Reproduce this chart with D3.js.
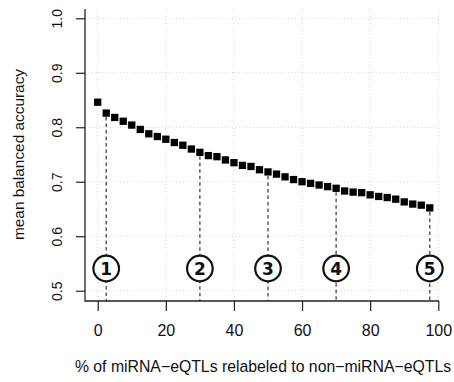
<!DOCTYPE html>
<html>
<head>
<meta charset="utf-8">
<script src="https://cdn.jsdelivr.net/npm/d3@7"></script>
<style>
  html, body { margin: 0; padding: 0; background: #fff; }
  svg { display: block; }
  text { font-family: "Liberation Sans", Arial, Helvetica, sans-serif; fill: #111; }
</style>
</head>
<body>
<svg id="chart" width="454" height="382"></svg>
<script>
// Percentage of miRNA-eQTLs relabeled, and the resulting mean balanced accuracy
const relabeled = [0, 2.5, 5, 7.5, 10, 12.5, 15, 17.5, 20, 22.5, 25, 27.5, 30, 32.5, 35, 37.5,
  40, 42.5, 45, 47.5, 50, 52.5, 55, 57.5, 60, 62.5, 65, 67.5, 70, 72.5, 75, 77.5, 80, 82.5,
  85, 87.5, 90, 92.5, 95, 97.5];
const accuracy = [0.846, 0.826, 0.818, 0.811, 0.804, 0.796, 0.788, 0.783, 0.778, 0.772,
  0.767, 0.760, 0.754, 0.748, 0.746, 0.740, 0.735, 0.730, 0.728, 0.722, 0.718, 0.714,
  0.709, 0.704, 0.700, 0.697, 0.694, 0.691, 0.688, 0.683, 0.681, 0.680, 0.676, 0.673,
  0.671, 0.668, 0.663, 0.659, 0.657, 0.652];

// Highlighted relabeling levels and their circled labels
const markedLevels = [2.5, 30, 50, 70, 97.5];
const markedLabels = ["1", "2", "3", "4", "5"];

const xTicks = [0, 20, 40, 60, 80, 100];
const yTicks = [0.5, 0.6, 0.7, 0.8, 0.9, 1.0];

const xTitle = "% of miRNA\u2212eQTLs relabeled to non\u2212miRNA\u2212eQTLs";
const yTitle = "mean balanced accuracy";

const svg = d3.select("#chart");

// plot region (L-shaped box)
const plotLeft = 85, plotRight = 439, plotTop = 9, plotBottom = 301;

const x = d3.scaleLinear().domain([0, 100]).range([97.7, 438.3]);
const y = d3.scaleLinear().domain([0.5, 1.0]).range([290.7, 18.3]);

// dotted grid
const grid = svg.append("g")
  .attr("stroke", "#cfcfcf")
  .attr("stroke-width", 1)
  .attr("stroke-dasharray", "1,2.5");
grid.selectAll("line.v").data(xTicks).join("line")
  .attr("class", "v")
  .attr("x1", d => x(d)).attr("x2", d => x(d))
  .attr("y1", plotTop).attr("y2", plotBottom);
grid.selectAll("line.h").data(yTicks).join("line")
  .attr("class", "h")
  .attr("x1", plotLeft).attr("x2", plotRight)
  .attr("y1", d => y(d)).attr("y2", d => y(d));

// dashed drop lines at the highlighted levels
const marked = markedLevels.map((lv, i) => ({
  level: lv,
  label: markedLabels[i],
  value: accuracy[relabeled.indexOf(lv)]
}));
svg.append("g")
  .attr("stroke", "#444")
  .attr("stroke-width", 1.3)
  .attr("stroke-dasharray", "3.5,3")
  .selectAll("line").data(marked).join("line")
  .attr("x1", d => x(d.level)).attr("x2", d => x(d.level))
  .attr("y1", d => y(d.value) + 4).attr("y2", plotBottom);

// circled labels
const circ = svg.append("g").selectAll("g").data(marked).join("g")
  .attr("transform", d => `translate(${x(d.level)},268.5)`);
circ.append("circle")
  .attr("r", 12.8)
  .attr("fill", "#fff")
  .attr("stroke", "#111")
  .attr("stroke-width", 2.2);
circ.append("text")
  .attr("text-anchor", "middle")
  .attr("dy", "0.37em")
  .style("font-family", "'DejaVu Sans', Verdana, sans-serif")
  .style("font-weight", "bold")
  .style("font-size", "17px")
  .text(d => d.label);

// axes
const xAxis = d3.axisBottom(x).tickValues(xTicks).tickSize(10).tickPadding(14)
  .tickFormat(d3.format("d"));
const gx = svg.append("g").attr("transform", `translate(0,${plotBottom})`).call(xAxis);
gx.select(".domain").remove();
gx.selectAll(".tick line").attr("stroke", "#222").attr("stroke-width", 1.2);
gx.selectAll(".tick text")
  .style("font-size", "16px")
  .attr("fill", "#111");

const yAxis = d3.axisLeft(y).tickValues(yTicks).tickSize(9).tickFormat(d3.format(".1f"));
const gy = svg.append("g").attr("transform", `translate(${plotLeft},0)`).call(yAxis);
gy.select(".domain").remove();
gy.selectAll(".tick line").attr("stroke", "#222").attr("stroke-width", 1.2);
gy.selectAll(".tick text")
  .attr("x", null)
  .attr("text-anchor", "middle")
  .attr("transform", "translate(-28,0) rotate(-90)")
  .attr("dy", "0.36em")
  .style("font-size", "14px")
  .attr("fill", "#111");

// L-shaped frame
svg.append("path")
  .attr("d", `M${plotLeft},${plotTop}V${plotBottom}H${plotRight}`)
  .attr("fill", "none")
  .attr("stroke", "#222")
  .attr("stroke-width", 1.3);

// points
const sz = 7.3;
svg.append("g").selectAll("rect").data(relabeled).join("rect")
  .attr("x", d => x(d) - sz / 2)
  .attr("y", (d, i) => y(accuracy[i]) - sz / 2)
  .attr("width", sz).attr("height", sz)
  .attr("fill", "#000");

// titles
svg.append("text")
  .attr("x", 263).attr("y", 372)
  .attr("text-anchor", "middle")
  .style("font-size", "15.8px")
  .text(xTitle);

svg.append("text")
  .attr("transform", "translate(23.5,154.5) rotate(-90)")
  .attr("text-anchor", "middle")
  .style("font-size", "15.4px")
  .text(yTitle);
</script>
</body>
</html>
